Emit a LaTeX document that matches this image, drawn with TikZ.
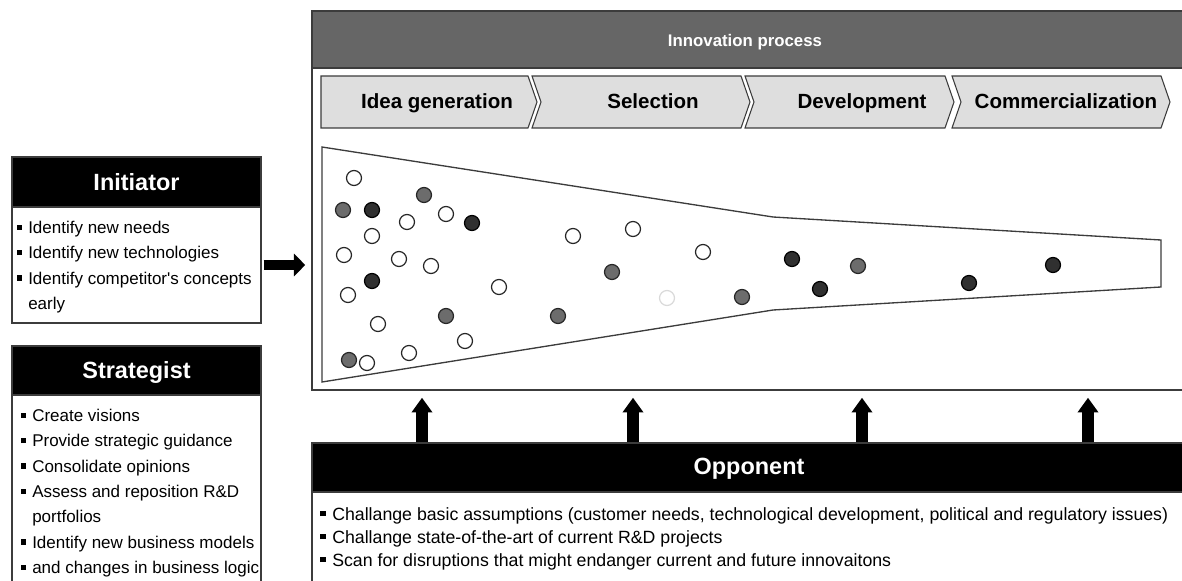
\documentclass[tikz,border=0pt]{standalone}
\usepackage{fontspec}
\setmainfont{Liberation Sans}
\usetikzlibrary{arrows.meta,fit}
\usepackage{xcolor}

\definecolor{bandgray}{RGB}{102,102,102}
\definecolor{chevgray}{RGB}{222,222,222}
\definecolor{edgegray}{RGB}{60,60,60}
\definecolor{dotgray}{RGB}{108,108,108}
\definecolor{dotdark}{RGB}{48,48,48}

\newcommand{\bul}[1]{\makebox[#1][l]{\rule[0.22em]{0.3em}{0.3em}}}

\begin{document}
\begin{tikzpicture}[x=0.75pt,y=0.75pt,yscale=-1,xscale=1,
  rolehead/.style={fill=black,draw=edgegray,line width=1.1pt,inner sep=0pt},
  roletitle/.style={inner sep=0pt,text=white,text height=12.6pt,text depth=0pt,font=\bfseries\fontsize{17.6}{20}\selectfont},
  rolebody/.style={draw=edgegray,line width=1.1pt,inner sep=0pt},
  bullets/.style={anchor=north west,inner sep=0pt,align=left,font=\fontsize{12.75}{19}\selectfont},
  phase/.style={fill=chevgray,draw=edgegray,line width=0.8pt},
  phasetxt/.style={inner sep=0pt,text height=11pt,text depth=0pt,font=\bfseries\fontsize{15.4}{18}\selectfont},
  wdot/.style={draw=black!85,fill=white,line width=0.9pt},
  gdot/.style={draw=black!85,fill=dotgray,line width=0.9pt},
  ddot/.style={draw=black,fill=dotdark,line width=0.9pt},
  sidearrow/.style={line width=7.5pt,-{Triangle[width=16.5pt,length=8.5pt]}},
  uparrow/.style={line width=8.5pt,-{Triangle[width=15pt,length=11pt]}}]
\useasboundingbox (0,0) rectangle (1182,581);
\clip (0,0) rectangle (1182,581);

%Shape: Rectangle (innovation process frame)
\node[rolebody,fit={(312,11) (1186,390)}] (innobox) {};
\node[fill=bandgray,draw=edgegray,line width=1.1pt,inner sep=0pt,fit={(312,11) (1186,68)}] (innohead) {};
\node[inner sep=0pt,text=white,text height=9pt,text depth=0pt,font=\bfseries\fontsize{12.6}{15}\selectfont] (innotitle) at (745,41) {Innovation process};

%Shape: Chevrons
\draw[phase] (321,76) -- (528,76) -- (537,102) -- (528,128) -- (321,128) -- cycle ;
\draw[phase] (532,76) -- (741,76) -- (750,102) -- (741,128) -- (532,128) -- (541,102) -- cycle ;
\draw[phase] (745,76) -- (945,76) -- (954,102) -- (945,128) -- (745,128) -- (754,102) -- cycle ;
\draw[phase] (952,76) -- (1161,76) -- (1170,102) -- (1161,128) -- (952,128) -- (961,102) -- cycle ;
\node[phasetxt] (ideagen) at (437,101) {Idea generation};
\node[phasetxt] (selection) at (653,101) {Selection};
\node[phasetxt] (development) at (862,101) {Development};
\node[phasetxt] (commercial) at (1066,101) {Commercialization};

%Shape: Funnel
\draw[draw=edgegray,line width=1pt] (322,147) -- (773,217) -- (1161,240) -- (1161,287) -- (773,310) -- (322,382) -- cycle ;
\coordinate (funnelmid) at (322,265);

%Shape: Circles
\draw[wdot] (354,178) circle [radius=7.5];
\draw[gdot] (343,210) circle [radius=7.5];
\draw[ddot] (372,210) circle [radius=7.5];
\draw[gdot] (424,195) circle [radius=7.5];
\draw[wdot] (446,214) circle [radius=7.5];
\draw[wdot] (407,222) circle [radius=7.5];
\draw[ddot] (472,223) circle [radius=7.5];
\draw[wdot] (372,236) circle [radius=7.5];
\draw[wdot] (344,255) circle [radius=7.5];
\draw[wdot] (399,259) circle [radius=7.5];
\draw[wdot] (431,266) circle [radius=7.5];
\draw[ddot] (372,281) circle [radius=7.5];
\draw[wdot] (348,295) circle [radius=7.5];
\draw[wdot] (378,324) circle [radius=7.5];
\draw[gdot] (446,316) circle [radius=7.5];
\draw[wdot] (465,341) circle [radius=7.5];
\draw[wdot] (409,353) circle [radius=7.5];
\draw[gdot] (349,360) circle [radius=7.5];
\draw[wdot] (367,363) circle [radius=7.5];
\draw[wdot] (573,236) circle [radius=7.5];
\draw[wdot] (633,229) circle [radius=7.5];
\draw[wdot] (499,287) circle [radius=7.5];
\draw[gdot] (612,272) circle [radius=7.5];
\draw[gdot] (558,316) circle [radius=7.5];
\draw[wdot] (703,252) circle [radius=7.5];
\draw[wdot,draw=black!15] (667,298) circle [radius=7.5];
\draw[gdot] (742,297) circle [radius=7.5];
\draw[ddot] (792,259) circle [radius=7.5];
\draw[ddot] (820,289) circle [radius=7.5];
\draw[gdot] (858,266) circle [radius=7.5];
\draw[ddot] (969,283) circle [radius=7.5];
\draw[ddot] (1053,265) circle [radius=7.5];

%Initiator
\node[rolebody,fit={(12,157) (261,323)}] (initbox) {};
\node[rolehead,fit={(12,157) (261,207)}] (inithead) {};
\node[roletitle] (inittitle) at (inithead.center) {Initiator};
\node[bullets] (inittext) at (17,221) {\bul{8.25pt}Identify new needs\\
  \bul{8.25pt}Identify new technologies\\
  \bul{8.25pt}Identify competitor\textquotesingle s concepts\\
  \hspace*{8.25pt}early};

%Strategist
\node[rolebody,fit={(12,346) (261,600)}] (stratbox) {};
\node[rolehead,fit={(12,346) (261,395)}] (strathead) {};
\node[roletitle] (strattitle) at (strathead.center) {Strategist};
\node[bullets] (strattext) at (21,409) {\bul{8.25pt}Create visions\\
  \bul{8.25pt}Provide strategic guidance\\
  \bul{8.25pt}Consolidate opinions\\
  \bul{8.25pt}Assess and reposition R\&D\\
  \hspace*{8.25pt}portfolios\\
  \bul{8.25pt}Identify new business models\\
  \bul{8.25pt}and changes in business logic};

%Opponent
\node[rolebody,fit={(312,443) (1186,600)}] (oppbox) {};
\node[rolehead,fit={(312,443) (1186,492)}] (opphead) {};
\node[roletitle] (opptitle) at (749,466) {Opponent};
\node[bullets,font=\fontsize{13.3}{17.25}\selectfont] (opptext) at (320,507) {\bul{9pt}Challange basic assumptions (customer needs, technological development, political and regulatory issues)\\
  \bul{9pt}Challange state-of-the-art of current R\&D projects\\
  \bul{9pt}Scan for disruptions that might endanger current and future innovaitons};

%Straight Lines (arrows)
\draw[sidearrow,shorten <=1.5pt,shorten >=4.5pt] (initbox.east |- funnelmid) -- (innobox.west |- funnelmid) ;
\coordinate (up1) at (422,0);
\coordinate (up2) at (633,0);
\coordinate (up3) at (862,0);
\coordinate (up4) at (1088,0);
\draw[uparrow,shorten >=5.25pt] (up1 |- opphead.north) -- (up1 |- innobox.south) ;
\draw[uparrow,shorten >=5.25pt] (up2 |- opphead.north) -- (up2 |- innobox.south) ;
\draw[uparrow,shorten >=5.25pt] (up3 |- opphead.north) -- (up3 |- innobox.south) ;
\draw[uparrow,shorten >=5.25pt] (up4 |- opphead.north) -- (up4 |- innobox.south) ;
\end{tikzpicture}
\end{document}
